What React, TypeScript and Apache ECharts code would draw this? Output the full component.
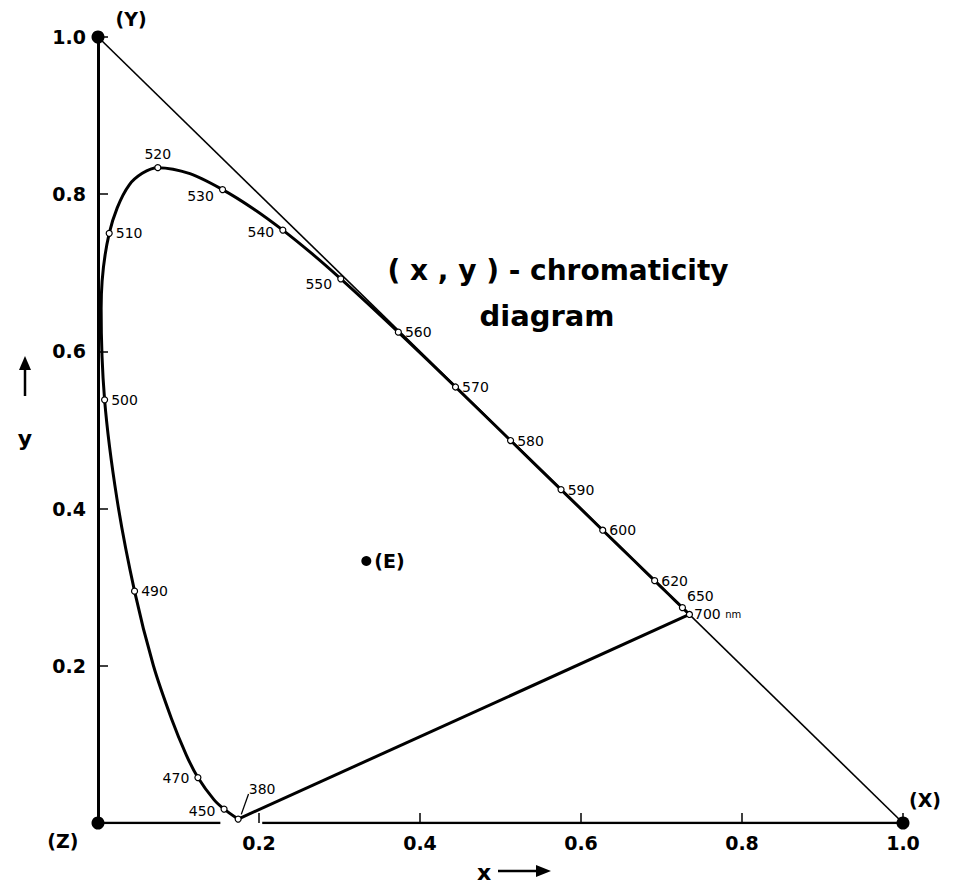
import React, { useEffect, useRef } from "react";
import * as echarts from "echarts";

// Spectral locus (CIE 1931 chromaticity coordinates)
const locusWavelengths = [380, 450, 460, 470, 475, 480, 485, 490, 495, 500, 505, 510, 515, 520, 525, 530, 535, 540, 545, 550, 555, 560, 570, 580, 590, 600, 610, 620, 630, 650, 700];
const locusX = [0.1741, 0.1566, 0.144, 0.1241, 0.1096, 0.0913, 0.0687, 0.0454, 0.0235, 0.0082, 0.0039, 0.0139, 0.0389, 0.0743, 0.1142, 0.1547, 0.1929, 0.2296, 0.2658, 0.3016, 0.3373, 0.3731, 0.4441, 0.5125, 0.5752, 0.627, 0.6658, 0.6915, 0.7079, 0.726, 0.7347];
const locusY = [0.005, 0.0177, 0.0297, 0.0578, 0.0868, 0.1327, 0.2007, 0.295, 0.4127, 0.5384, 0.6548, 0.7502, 0.812, 0.8338, 0.8262, 0.8059, 0.7816, 0.7543, 0.7243, 0.6923, 0.6589, 0.6245, 0.5547, 0.4866, 0.4242, 0.3725, 0.334, 0.3083, 0.292, 0.274, 0.2653];

// Labelled wavelength markers
const markedWavelengths = [380, 450, 470, 490, 500, 510, 520, 530, 540, 550, 560, 570, 580, 590, 600, 620, 650, 700];

// Primaries and equal-energy point
const primaryNames = ["(X)", "(Y)", "(Z)"];
const primaryX = [1, 0, 0];
const primaryY = [0, 1, 0];
const whiteName = "(E)";
const whiteX = 1 / 3;
const whiteY = 1 / 3;

export default function App() {
  const ref = useRef<HTMLDivElement>(null);
  useEffect(() => {
    document.body.style.margin = "0";
    const chart = echarts.init(ref.current!, null, { renderer: "svg" });
    const font = "DejaVu Sans";
    const ink = "#000";

    const locusData = locusWavelengths.map((w, i) => [locusX[i], locusY[i]]);
    const labelPos: Record<number, any> = {
      380: { position: "top", offset: [24, -16] },
      450: { position: "left", offset: [-2, 2] },
      470: { position: "left", offset: [-2, 0] },
      490: { position: "right" },
      500: { position: "right" },
      510: { position: "right" },
      520: { position: "top", offset: [0, 0] },
      530: { position: "left", offset: [-2, 6] },
      540: { position: "left", offset: [-2, 2] },
      550: { position: "left", offset: [-2, 5] },
      560: { position: "right" },
      570: { position: "right" },
      580: { position: "right" },
      590: { position: "right" },
      600: { position: "right" },
      620: { position: "right" },
      650: { position: "right", offset: [-2, -12] },
      700: { position: "right", offset: [-2, 0], formatter: "700 {s|nm}" },
    };
    const markerData = markedWavelengths.map((w) => {
      const i = locusWavelengths.indexOf(w);
      return {
        name: String(w),
        value: [locusX[i], locusY[i]],
        label: labelPos[w],
      };
    });

    const primaryLabel: Record<string, any> = {
      "(X)": { position: "top", offset: [22, -2] },
      "(Y)": { position: "right", offset: [6, -18] },
      "(Z)": { position: "left", offset: [-8, 18] },
    };
    const primaryData = primaryNames.map((n, i) => ({
      name: n,
      value: [primaryX[i], primaryY[i]],
      label: primaryLabel[n],
    }));

    const axisLabelStyle = {
      fontFamily: font,
      fontSize: 19,
      fontWeight: "bold",
      color: ink,
    };

    chart.setOption({
      animation: false,
      backgroundColor: "#fff",
      grid: { left: 98, right: 56, top: 37, bottom: 61, containLabel: false },
      xAxis: {
        type: "value",
        min: 0,
        max: 1,
        interval: 0.2,
        axisLine: { show: false },
        axisTick: { show: true, inside: true, length: 10, lineStyle: { color: ink, width: 1.5 } },
        splitLine: { show: false },
        axisLabel: {
          ...axisLabelStyle,
          margin: 10,
          formatter: (v: number) => (v === 0 ? "" : v.toFixed(1)),
        },
      },
      yAxis: {
        type: "value",
        min: 0,
        max: 1,
        interval: 0.2,
        axisLine: { show: true, lineStyle: { color: ink, width: 3 } },
        axisTick: { show: true, inside: true, length: 10, lineStyle: { color: ink, width: 1.5 } },
        splitLine: { show: false },
        axisLabel: {
          ...axisLabelStyle,
          margin: 12,
          formatter: (v: number) => (v === 0 ? "" : v.toFixed(1)),
        },
      },
      series: [
        {
          type: "line",
          data: [[0, 0], [0.152, 0]],
          symbol: "none",
          lineStyle: { color: ink, width: 2.5 },
          z: 2,
        },
        {
          type: "line",
          data: [[0.204, 0], [1, 0]],
          symbol: "none",
          lineStyle: { color: ink, width: 2.5 },
          z: 2,
        },
        {
          type: "line",
          data: [[0, 1], [1, 0]],
          symbol: "none",
          lineStyle: { color: ink, width: 1.6 },
          z: 2,
        },
        {
          type: "line",
          data: locusData,
          symbol: "none",
          smooth: 0.3,
          lineStyle: { color: ink, width: 3 },
          z: 3,
        },
        {
          type: "line",
          data: [[locusX[0], locusY[0]], [locusX[locusX.length - 1], locusY[locusY.length - 1]]],
          symbol: "none",
          lineStyle: { color: ink, width: 3 },
          z: 3,
        },
        {
          type: "line",
          data: [[0.178, 0.011], [0.187, 0.037]],
          symbol: "none",
          lineStyle: { color: ink, width: 1.3 },
          z: 3,
        },
        {
          type: "scatter",
          data: markerData,
          symbol: "circle",
          symbolSize: 6,
          itemStyle: { color: "#fff", borderColor: ink, borderWidth: 1.2, opacity: 1 },
          label: {
            show: true,
            formatter: "{b}",
            fontFamily: font,
            fontSize: 14,
            color: ink,
            distance: 3,
            rich: { s: { fontFamily: font, fontSize: 10, color: ink } },
          },
          z: 5,
        },
        {
          type: "scatter",
          data: primaryData,
          symbol: "circle",
          symbolSize: 13,
          itemStyle: { color: ink, opacity: 1 },
          label: {
            show: true,
            formatter: "{b}",
            fontFamily: font,
            fontWeight: "bold",
            fontSize: 19,
            color: ink,
          },
          z: 6,
        },
        {
          type: "scatter",
          data: [{ name: whiteName, value: [whiteX, whiteY] }],
          symbol: "circle",
          symbolSize: 10,
          itemStyle: { color: ink, opacity: 1 },
          label: {
            show: true,
            position: "right",
            distance: 3,
            formatter: "{b}",
            fontFamily: font,
            fontWeight: "bold",
            fontSize: 19,
            color: ink,
          },
          z: 6,
        },
      ],
      graphic: [
        {
          type: "text",
          x: 558,
          y: 270,
          style: {
            text: "( x , y ) - chromaticity",
            font: `bold 28px "${font}"`,
            fill: ink,
            align: "center",
            verticalAlign: "middle",
          },
        },
        {
          type: "text",
          x: 547,
          y: 316,
          style: {
            text: "diagram",
            font: `bold 29px "${font}"`,
            fill: ink,
            align: "center",
            verticalAlign: "middle",
          },
        },
        // y arrow
        {
          type: "line",
          shape: { x1: 25, y1: 396, x2: 25, y2: 368 },
          style: { stroke: ink, lineWidth: 2.5 },
        },
        {
          type: "polygon",
          shape: { points: [[19, 370], [31, 370], [25, 356]] },
          style: { fill: ink },
        },
        {
          type: "text",
          x: 25,
          y: 438,
          style: {
            text: "y",
            font: `bold 22px "${font}"`,
            fill: ink,
            align: "center",
            verticalAlign: "middle",
          },
        },
        // x arrow
        {
          type: "text",
          x: 484,
          y: 872,
          style: {
            text: "x",
            font: `bold 22px "${font}"`,
            fill: ink,
            align: "center",
            verticalAlign: "middle",
          },
        },
        {
          type: "line",
          shape: { x1: 498, y1: 871, x2: 538, y2: 871 },
          style: { stroke: ink, lineWidth: 2.5 },
        },
        {
          type: "polygon",
          shape: { points: [[536, 865], [536, 877], [551, 871]] },
          style: { fill: ink },
        },
      ],
    });
    return () => chart.dispose();
  }, []);
  return <div ref={ref} style={{ width: 959, height: 884 }} />;
}
